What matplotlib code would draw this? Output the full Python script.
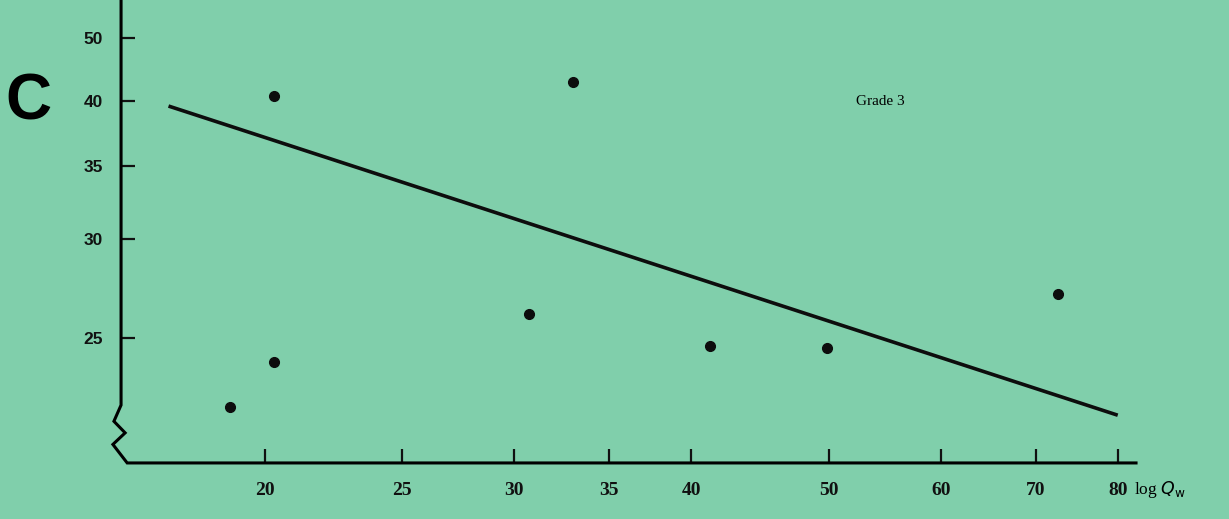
import matplotlib.pyplot as plt
import numpy as np
from matplotlib.lines import Line2D

# data
qw = [18.9, 20.3, 20.3, 33.0, 30.7, 41.2, 49.9, 72.6]
score = [21.5, 23.8, 40.8, 43.0, 26.2, 24.6, 24.5, 27.2]
fit_x = [17.1, 80.0]
fit_y = [39.6, 21.1]

xticks = [20, 25, 30, 35, 40, 50, 60, 70, 80]
yticks = [25, 30, 35, 40, 50]
# the printed ordinate is not evenly spaced: relative heights of the tick marks
ytick_pos = [0.0, 99.0, 172.0, 237.0, 300.0]

bg = '#80cfab'


def _extrap(v, xp, fp):
    v = np.asarray(v, dtype=float)
    out = np.interp(v, xp, fp)
    lo = (fp[1] - fp[0]) / (xp[1] - xp[0])
    hi = (fp[-1] - fp[-2]) / (xp[-1] - xp[-2])
    out = np.where(v < xp[0], fp[0] + (v - xp[0]) * lo, out)
    out = np.where(v > xp[-1], fp[-1] + (v - xp[-1]) * hi, out)
    return out


def fwd(v):
    return _extrap(v, yticks, ytick_pos)


def inv(v):
    return _extrap(v, ytick_pos, yticks)


fig = plt.figure(figsize=(12.29, 5.19), dpi=100)
fig.patch.set_facecolor(bg)
ax = fig.add_axes([0.0985, 0.108, 0.83, 0.892])
ax.set_facecolor(bg)

ax.set_xscale('log')
ax.set_yscale('function', functions=(fwd, inv))
ax.set_xlim(15.83, 83.1)
ax.set_ylim(18.69, 56.0)

ax.plot(fit_x, fit_y, color='#0d0d0d', linewidth=2.6, solid_capstyle='butt')
ax.plot(qw, score, 'o', color='#0d0d0d', markersize=7)

for s in ax.spines.values():
    s.set_visible(False)

# axes drawn by hand: y axis with break zigzag, then x axis
k = 'k'
ax.add_line(Line2D([0, 0, -0.007, 0.004, -0.008, 0.006, 0.995],
                   [1, 0.125, 0.09, 0.065, 0.04, 0.0, 0.0],
                   transform=ax.transAxes, color=k, linewidth=2.2,
                   clip_on=False, solid_joinstyle='miter'))

ax.set_xticks(xticks)
ax.set_xticklabels([str(t) for t in xticks], family='Liberation Serif',
                   fontsize=14, fontweight='bold')
ax.xaxis.set_minor_locator(plt.NullLocator())
ax.set_yticks(yticks)
ax.set_yticklabels([str(t) for t in yticks], family='Liberation Sans',
                   fontsize=12.5, fontweight='bold')
ax.yaxis.set_minor_locator(plt.NullLocator())
ax.tick_params(axis='x', direction='in', length=10, width=1.6, pad=14,
               colors='#111111')
ax.tick_params(axis='y', direction='in', length=10, width=1.6, pad=13,
               colors='#111111')

ax.text(0.993, -0.058, r'log $Q_{\mathrm{w}}$', transform=ax.transAxes,
        family='Liberation Serif', fontsize=12.5, va='center', ha='left')
ax.text(0.744, 0.78, 'Grade 3', transform=ax.transAxes,
        family='Liberation Serif', fontsize=11, va='center', ha='center')
fig.text(0.023, 0.803, 'C', family='Liberation Sans', fontsize=46,
         fontweight='bold', va='center', ha='center')

fig.savefig('out.png', dpi=100, facecolor=bg)
